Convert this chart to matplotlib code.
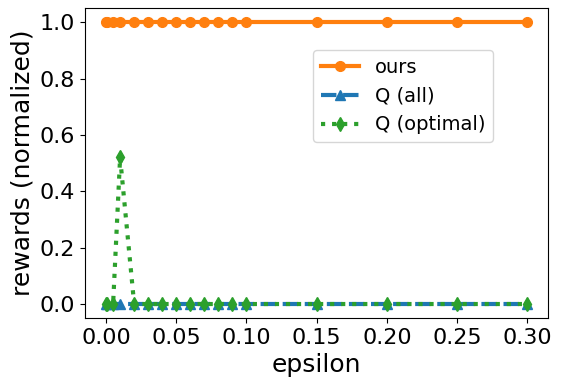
import matplotlib
matplotlib.use("Agg")
import matplotlib.pyplot as plt

eps = [0, 0.001, 0.005, 0.01, 0.02, 0.03, 0.04, 0.05, 0.06, 0.07, 0.08, 0.09, 0.1, 0.15, 0.2, 0.25, 0.3]
ours = [1.0] * len(eps)
q_all = [0.0] * len(eps)
q_opt = [0.0, 0.0, 0.0, 0.52, 0.0, 0.0, 0.0, 0.0, 0.0, 0.0, 0.0, 0.0, 0.0, 0.0, 0.0, 0.0, 0.0]

fig = plt.figure(figsize=(5.63, 3.87), dpi=100)
ax = fig.add_axes([0.151, 0.178, 0.823, 0.801])
ax.plot(eps, ours, color="tab:orange", linestyle="-", marker="o", linewidth=3, markersize=7, label="ours")
ax.plot(eps, q_all, color="tab:blue", linestyle="--", marker="^", linewidth=3, markersize=7, label="Q (all)")
ax.plot(eps, q_opt, color="tab:green", linestyle=":", marker="d", linewidth=3, markersize=7.5, label="Q (optimal)")
ax.set_xlabel("epsilon", fontsize=18)
ax.set_ylabel("rewards (normalized)", fontsize=18)
ax.tick_params(labelsize=16)
ax.set_xticks([0, 0.05, 0.1, 0.15, 0.2, 0.25, 0.3])
ax.set_yticks([0, 0.2, 0.4, 0.6, 0.8, 1.0])
ax.legend(fontsize=14, loc="upper right", bbox_to_anchor=(0.902, 0.896))
fig.savefig("out.png", dpi=100)
